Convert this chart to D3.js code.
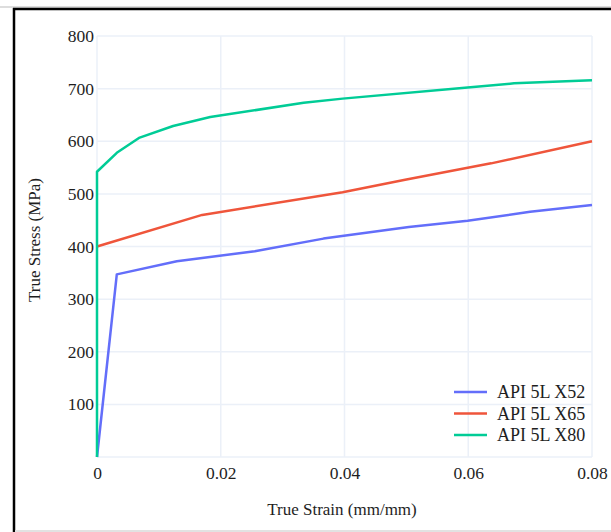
<!DOCTYPE html>
<html>
<head>
<meta charset="utf-8">
<script src="https://cdn.jsdelivr.net/npm/d3@7"></script>
<style>
  body { margin: 0; background: #fff; }
  text { font-family: "Liberation Serif", "Times New Roman", serif; fill: #1e1e1e; }
</style>
</head>
<body>
<div id="chart"></div>
<script>
// Data
const seriesNames = ['API 5L X52', 'API 5L X65', 'API 5L X80'];
const seriesColors = ['#636efa', '#ef553b', '#00cc96'];

const x52Strain = [0, 0.0032, 0.0129, 0.0255, 0.0366, 0.0504, 0.0599, 0.0700, 0.0800];
const x52Stress = [0, 347, 372, 391, 415, 437, 449, 466, 479];

const x65Strain = [0, 0.0170, 0.0397, 0.0498, 0.0637, 0.0800];
const x65Stress = [400, 460, 503, 527, 558, 600];

const x80Strain = [0, 0, 0.0032, 0.0069, 0.0123, 0.0183, 0.0334, 0.0397, 0.0599, 0.0674, 0.0800];
const x80Stress = [0, 542, 578, 607, 629, 646, 673, 681, 702, 710, 716];

const xTicks = [0, 0.02, 0.04, 0.06, 0.08];
const yTicks = [0, 100, 200, 300, 400, 500, 600, 700, 800];

const svgWidth = 611;
const svgHeight = 532;
const plot = { left: 97, right: 592, top: 36, bottom: 457 };

const svg = d3.select('#chart')
  .append('svg')
  .attr('width', svgWidth)
  .attr('height', svgHeight);

svg.append('rect')
  .attr('width', svgWidth)
  .attr('height', svgHeight)
  .attr('fill', '#fff');

// Frame (scanned figure border)
svg.append('line')
  .attr('x1', 0).attr('x2', svgWidth).attr('y1', 7).attr('y2', 7)
  .attr('stroke', '#bbb').attr('stroke-width', 1);
svg.append('line')
  .attr('x1', 13).attr('x2', svgWidth).attr('y1', 9).attr('y2', 9)
  .attr('stroke', '#000').attr('stroke-width', 2.5);
svg.append('line')
  .attr('x1', 14).attr('x2', 14).attr('y1', 8).attr('y2', svgHeight)
  .attr('stroke', '#000').attr('stroke-width', 2.5);
svg.append('line')
  .attr('x1', 15).attr('x2', svgWidth).attr('y1', 531).attr('y2', 531)
  .attr('stroke', '#e2e2e2').attr('stroke-width', 2);

const xScale = d3.scaleLinear().domain([0, 0.08]).range([plot.left, plot.right]);
const yScale = d3.scaleLinear().domain([0, 800]).range([plot.bottom, plot.top]);

// Grid
const grid = svg.append('g').attr('class', 'grid');
grid.selectAll('.vgrid')
  .data(xTicks)
  .enter()
  .append('line')
  .attr('class', 'vgrid')
  .attr('x1', d => xScale(d)).attr('x2', d => xScale(d))
  .attr('y1', plot.top).attr('y2', plot.bottom)
  .attr('stroke', '#ebf0f8').attr('stroke-width', 1.5);
grid.selectAll('.hgrid')
  .data(yTicks)
  .enter()
  .append('line')
  .attr('class', 'hgrid')
  .attr('x1', plot.left).attr('x2', plot.right)
  .attr('y1', d => yScale(d)).attr('y2', d => yScale(d))
  .attr('stroke', '#ebf0f8').attr('stroke-width', 1.5);

// Axes (labels only)
const xAxis = d3.axisBottom(xScale)
  .tickValues(xTicks)
  .tickSize(0)
  .tickPadding(10)
  .tickFormat(d => d === 0 ? '0' : d3.format('.2f')(d));
const gx = svg.append('g')
  .attr('transform', 'translate(0,' + plot.bottom + ')')
  .call(xAxis);
gx.select('.domain').remove();
gx.selectAll('text')
  .attr('font-size', 17.5)
  .attr('font-family', '"Liberation Serif", serif')
  .attr('fill', '#1e1e1e');

const yAxis = d3.axisLeft(yScale)
  .tickValues(yTicks.filter(d => d > 0))
  .tickSize(0)
  .tickPadding(3);
const gy = svg.append('g')
  .attr('transform', 'translate(' + plot.left + ',0)')
  .call(yAxis);
gy.select('.domain').remove();
gy.selectAll('text')
  .attr('font-size', 17.5)
  .attr('font-family', '"Liberation Serif", serif')
  .attr('fill', '#1e1e1e');

// Axis titles
svg.append('text')
  .attr('x', 342)
  .attr('y', 515)
  .attr('text-anchor', 'middle')
  .attr('font-size', 17)
  .text('True Strain (mm/mm)');

svg.append('text')
  .attr('transform', 'translate(40,240) rotate(-90)')
  .attr('text-anchor', 'middle')
  .attr('font-size', 17)
  .text('True Stress (MPa)');

// Lines
const seriesData = [
  x52Strain.map((x, i) => ({ x: x, y: x52Stress[i] })),
  x65Strain.map((x, i) => ({ x: x, y: x65Stress[i] })),
  x80Strain.map((x, i) => ({ x: x, y: x80Stress[i] })),
];

const line = d3.line()
  .x(d => xScale(d.x))
  .y(d => yScale(d.y));

svg.selectAll('.line-path')
  .data(seriesData)
  .enter()
  .append('path')
  .attr('class', 'line-path')
  .attr('d', line)
  .attr('fill', 'none')
  .attr('stroke', (d, i) => seriesColors[i])
  .attr('stroke-width', 2.5)
  .attr('stroke-linejoin', 'round');

// Legend
const legend = svg.append('g').attr('transform', 'translate(454,392)');
const legendItems = legend.selectAll('.legend-item')
  .data(seriesNames)
  .enter()
  .append('g')
  .attr('class', 'legend-item')
  .attr('transform', (d, i) => 'translate(0,' + (i * 21.5) + ')');
legendItems.append('line')
  .attr('x1', 0).attr('x2', 33)
  .attr('stroke', (d, i) => seriesColors[i])
  .attr('stroke-width', 2.5);
legendItems.append('text')
  .attr('x', 43)
  .attr('dy', '0.35em')
  .attr('font-size', 18)
  .attr('fill', '#111')
  .text(d => d);
</script>
</body>
</html>
